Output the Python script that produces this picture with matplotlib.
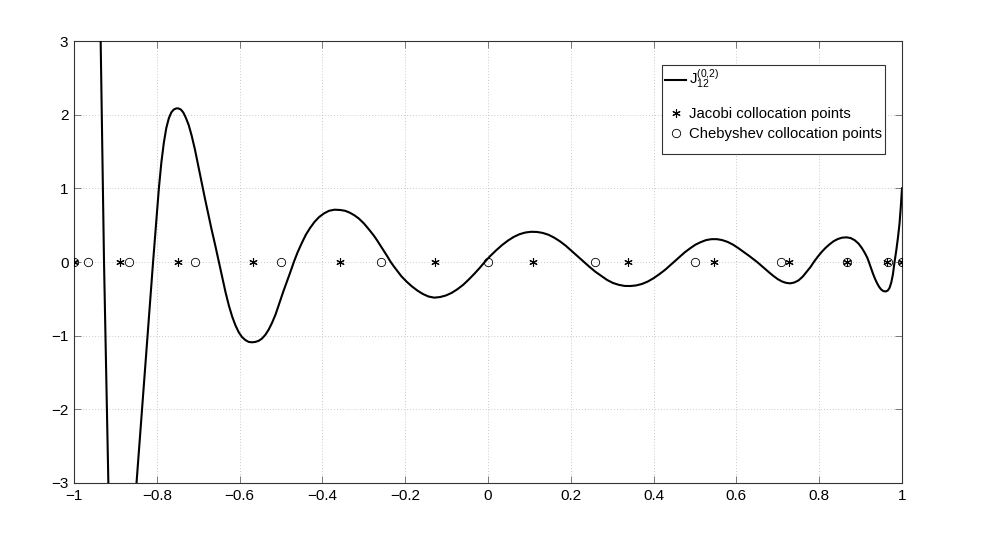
import numpy as np
import matplotlib
matplotlib.use("Agg")
import matplotlib.pyplot as plt
from matplotlib.offsetbox import DrawingArea

plt.rcParams['font.family'] = ['Liberation Sans', 'DejaVu Sans']
plt.rcParams['mathtext.fontset'] = 'custom'
plt.rcParams['mathtext.rm'] = 'Liberation Sans'
plt.rcParams['mathtext.default'] = 'regular'

# J_12^(0,2) (values beyond the y-limits are rough guesses)
curve_x = [-0.945, -0.9356, -0.9275, -0.917, -0.900, -0.880, -0.860, -0.849, -0.829,
           -0.809, -0.802, -0.795, -0.789, -0.783, -0.777, -0.771, -0.765, -0.759, -0.753,
           -0.748, -0.742, -0.736, -0.730, -0.723, -0.716, -0.708, -0.700, -0.692, -0.684,
           -0.676, -0.668, -0.659,
           -0.650, -0.642, -0.634, -0.626, -0.618, -0.610, -0.602, -0.594, -0.586, -0.578,
           -0.570, -0.562, -0.554, -0.546, -0.538, -0.530, -0.522, -0.513, -0.504, -0.495,
           -0.486, -0.477,
           -0.469, -0.460, -0.450, -0.440, -0.430, -0.419, -0.408, -0.396, -0.384, -0.371,
           -0.357, -0.345, -0.334, -0.323, -0.312, -0.300, -0.288, -0.276, -0.268, -0.260,
           -0.250, -0.243,
           -0.235, -0.227, -0.218, -0.209, -0.196, -0.183, -0.170, -0.157, -0.144, -0.130,
           -0.116, -0.102, -0.088, -0.074, -0.060, -0.046, -0.033, -0.020,
           -0.008, 0.006, 0.020, 0.034, 0.048, 0.062, 0.076, 0.090, 0.104, 0.118, 0.132,
           0.146, 0.160, 0.174, 0.188, 0.202, 0.217,
           0.232, 0.246, 0.260, 0.274, 0.288, 0.302, 0.316, 0.330, 0.344, 0.358, 0.372,
           0.386, 0.400, 0.414, 0.428, 0.442,
           0.449, 0.462, 0.475, 0.488, 0.501, 0.514, 0.527, 0.540, 0.553, 0.566, 0.579,
           0.592, 0.605, 0.618, 0.631, 0.640,
           0.650, 0.660, 0.670, 0.680, 0.690, 0.700, 0.710, 0.720, 0.730, 0.740, 0.750,
           0.760, 0.770, 0.779,
           0.787, 0.796, 0.805, 0.815, 0.825, 0.835, 0.845, 0.855, 0.866, 0.876, 0.886,
           0.895, 0.903, 0.910, 0.916,
           0.920, 0.925, 0.930, 0.935, 0.940, 0.945, 0.950, 0.955, 0.961, 0.966, 0.970,
           0.974, 0.978, 0.982, 0.986, 0.990, 0.994, 0.997, 1.000]
curve_y = [6.0, 3.0, 0.0, -3.0, -5.0, -5.5, -4.5, -3.0, -1.5,
           0.0, 0.5, 1.0, 1.35, 1.62, 1.82, 1.95, 2.03, 2.07, 2.085,
           2.085, 2.07, 2.03, 1.96, 1.86, 1.72, 1.53, 1.31, 1.09, 0.87,
           0.66, 0.45, 0.23,
           0.0, -0.21, -0.41, -0.59, -0.74, -0.86, -0.955, -1.02, -1.06, -1.085,
           -1.09, -1.085, -1.07, -1.04, -0.99, -0.92, -0.83, -0.71, -0.56, -0.41,
           -0.27, -0.13,
           0.0, 0.13, 0.255, 0.37, 0.46, 0.545, 0.61, 0.66, 0.695, 0.71,
           0.706, 0.695, 0.67, 0.635, 0.59, 0.525, 0.445, 0.36, 0.295, 0.225,
           0.14, 0.075,
           0.0, -0.063, -0.13, -0.195, -0.27, -0.335, -0.39, -0.435, -0.468, -0.484,
           -0.476, -0.455, -0.42, -0.37, -0.31, -0.235, -0.16, -0.08,
           0.0, 0.085, 0.16, 0.23, 0.29, 0.34, 0.377, 0.40, 0.41, 0.408, 0.395,
           0.37, 0.33, 0.28, 0.22, 0.15, 0.075,
           0.0, -0.07, -0.135, -0.19, -0.245, -0.285, -0.31, -0.325, -0.326, -0.318, -0.298,
           -0.265, -0.22, -0.165, -0.105, -0.035,
           0.0, 0.065, 0.13, 0.185, 0.235, 0.27, 0.298, 0.31, 0.31, 0.297, 0.272,
           0.235, 0.187, 0.135, 0.082, 0.044,
           0.0, -0.048, -0.097, -0.146, -0.192, -0.233, -0.264, -0.283, -0.29, -0.278, -0.25,
           -0.20, -0.13, -0.068,
           0.0, 0.068, 0.13, 0.19, 0.24, 0.283, 0.312, 0.33, 0.335, 0.325, 0.295,
           0.25, 0.19, 0.125, 0.06,
           0.0, -0.08, -0.16, -0.23, -0.29, -0.34, -0.375, -0.395, -0.40, -0.385, -0.35,
           -0.28, -0.17, 0.0, 0.15, 0.32, 0.52, 0.74, 1.0]

jacobi_x = [-1.0, -0.89, -0.748, -0.567, -0.357, -0.129, 0.108, 0.337, 0.546, 0.727, 0.866, 0.963, 1.0]
cheb_x = [-1.0, -0.966, -0.866, -0.707, -0.5, -0.259, 0.0, 0.259, 0.5, 0.707, 0.866, 0.966, 1.0]

xticks = [-1, -0.8, -0.6, -0.4, -0.2, 0, 0.2, 0.4, 0.6, 0.8, 1]
xtick_labels = ['\u22121', '\u22120.8', '\u22120.6', '\u22120.4', '\u22120.2', '0',
                '0.2', '0.4', '0.6', '0.8', '1']
yticks = [-3, -2, -1, 0, 1, 2, 3]
ytick_labels = ['\u22123', '\u22122', '\u22121', '0', '1', '2', '3']

fig = plt.figure(figsize=(9.97, 5.42), dpi=100)
ax = fig.add_axes([74 / 997, 1 - 483 / 542, 828 / 997, 442 / 542])

ax.plot(curve_x, curve_y, color='black', lw=1.5, solid_joinstyle='round',
        label=r'$J_{12}^{(0{,}2)}$', zorder=3)
ax.plot(jacobi_x, np.zeros(len(jacobi_x)), linestyle='none', marker=(6, 2, 0), ms=6,
        mec='black', mew=0.8, label='Jacobi collocation points', zorder=4)
ax.plot(cheb_x, np.zeros(len(cheb_x)), linestyle='none', marker='o', ms=6,
        mfc='none', mec='black', mew=0.6, label='Chebyshev collocation points', zorder=4)

ax.set_xlim(-1, 1)
ax.set_ylim(-3, 3)
ax.set_xticks(xticks)
ax.set_xticklabels(xtick_labels)
ax.set_yticks(yticks)
ax.set_yticklabels(ytick_labels)
ax.tick_params(direction='in', length=5, width=0.6, color='#666666', labelsize=11,
               top=True, right=True, pad=4)
ax.grid(True, linestyle=(0, (1, 2.5)), color='#b8b8b8', lw=0.6)
for s in ax.spines.values():
    s.set_color('#333333')
    s.set_linewidth(0.8)

leg = ax.legend(loc='upper right', bbox_to_anchor=((885 - 74) / 828, (483 - 65) / 442),
                fontsize=10.7, frameon=True, fancybox=False, framealpha=1,
                edgecolor='#333333', handlelength=1.4, handletextpad=0.2,
                borderpad=0.2, labelspacing=0.36, borderaxespad=0)
leg.get_frame().set_linewidth(0.8)

# matlab legends leave extra room under the first entry and at the bottom
rows = leg._legend_handle_box.get_children()[0].get_children()
rows.insert(1, DrawingArea(1, 4))
rows.append(DrawingArea(1, 3.6))

fig.savefig('out.png', dpi=100)
